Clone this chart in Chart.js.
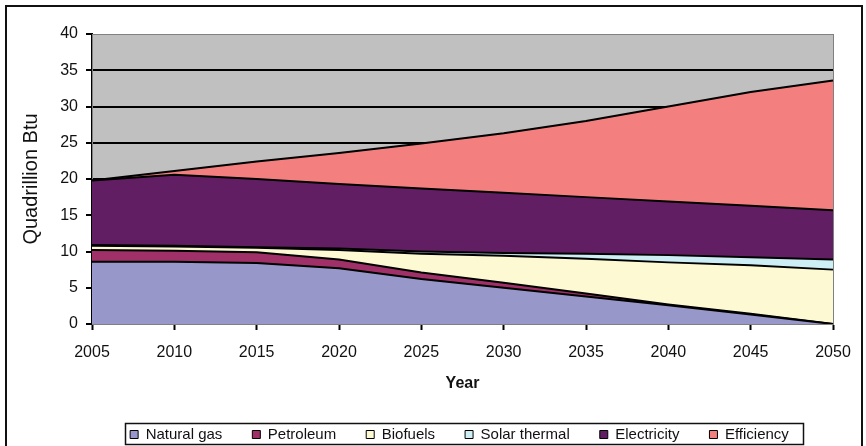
<!DOCTYPE html>
<html>
<head>
<meta charset="utf-8">
<script src="https://cdn.jsdelivr.net/npm/chart.js@4.4.1/dist/chart.umd.min.js"></script>
<style>
  body { margin: 0; background: #fff; }
  canvas { display: block; }
</style>
</head>
<body>
<canvas id="energyChart" width="866" height="446"></canvas>
<script>
// years on the x axis
const years = ["2005", "2010", "2015", "2020", "2025", "2030", "2035", "2040", "2045", "2050"];

// stacked values, quadrillion Btu
const naturalGas   = [8.6, 8.6, 8.4, 7.7, 6.2, 5.0, 3.8, 2.6, 1.3, 0.0];
const petroleum    = [1.6, 1.5, 1.5, 1.2, 0.9, 0.7, 0.4, 0.1, 0.1, 0.0];
const biofuels     = [0.6, 0.6, 0.6, 1.3, 2.6, 3.7, 4.8, 5.8, 6.7, 7.5];
const solarThermal = [0.1, 0.1, 0.1, 0.2, 0.3, 0.4, 0.7, 1.0, 1.1, 1.4];
const electricity  = [8.9, 9.8, 9.4, 8.9, 8.7, 8.3, 7.8, 7.4, 7.1, 6.8];
const efficiency   = [0.0, 0.5, 2.4, 4.3, 6.2, 8.2, 10.5, 13.1, 15.7, 17.9];

const yTicks = [0, 5, 10, 15, 20, 25, 30, 35, 40];

const seriesNames  = ["Natural gas", "Petroleum", "Biofuels", "Solar thermal", "Electricity", "Efficiency"];
const seriesValues = [naturalGas, petroleum, biofuels, solarThermal, electricity, efficiency];
const seriesColors = ["#9797ca", "#a03068", "#fdf9d2", "#cdeef4", "#621e62", "#f47f7f"];

const FONT = "'Liberation Sans', Arial, sans-serif";
const LEGEND_SHIFT = 43; // legend sits right of centre in the original

// gray plot background, outer frame and legend box
const framePlugin = {
    id: "frame",
    afterLayout(chart) {
        chart.legend.left += LEGEND_SHIFT;
        chart.legend.right += LEGEND_SHIFT;
    },
    beforeDraw(chart) {
        const { ctx, chartArea: a } = chart;
        ctx.save();
        ctx.fillStyle = "#ffffff";
        ctx.fillRect(0, 0, chart.width, chart.height);
        ctx.fillStyle = "#c0c0c0";
        ctx.fillRect(a.left, a.top, a.right - a.left, a.bottom - a.top);
        ctx.restore();
    },
    beforeDatasetsDraw(chart) {
        const { ctx, chartArea: a } = chart;
        ctx.save();
        ctx.strokeStyle = "#808080";
        ctx.lineWidth = 1;
        ctx.strokeRect(a.left + 0.5, a.top + 0.5, a.right - a.left, a.bottom - a.top);
        ctx.restore();
    },
    afterDraw(chart) {
        const ctx = chart.ctx;
        ctx.save();
        ctx.strokeStyle = "#111";
        ctx.lineWidth = 2;
        ctx.strokeRect(6, 6, 856, 470);

        const boxes = chart.legend.legendHitBoxes;
        if (boxes && boxes.length) {
            const l = Math.min(...boxes.map(b => b.left)) - 5;
            const r = Math.max(...boxes.map(b => b.left + b.width)) + 14;
            const t = Math.min(...boxes.map(b => b.top)) - 4;
            const btm = Math.max(...boxes.map(b => b.top + b.height)) + 2;
            ctx.lineWidth = 1.5;
            ctx.strokeRect(Math.round(l) + 0.5, Math.round(t) + 0.5, Math.round(r - l), Math.round(btm - t));
        }
        ctx.restore();
    }
};

const datasets = seriesNames.map((name, i) => ({
    label: name,
    data: seriesValues[i],
    backgroundColor: seriesColors[i],
    borderColor: "#000",
    borderWidth: 2,
    pointRadius: 0,
    tension: 0,
    fill: i === 0 ? "origin" : "-1"
}));

const ctx = document.getElementById("energyChart").getContext("2d");
new Chart(ctx, {
    type: "line",
    data: { labels: years, datasets: datasets },
    options: {
        responsive: false,
        animation: false,
        layout: { padding: { left: 0, right: 33, top: 34, bottom: 0 } },
        plugins: {
            tooltip: { enabled: false },
            legend: {
                position: "bottom",
                maxHeight: 49,
                labels: {
                    font: { family: FONT, size: 15 },
                    color: "#111",
                    boxWidth: 8,
                    boxHeight: 8,
                    padding: 30,
                    generateLabels(chart) {
                        const items = Chart.defaults.plugins.legend.labels.generateLabels(chart);
                        items.forEach(it => { it.lineWidth = 1; it.strokeStyle = "#000"; });
                        return items;
                    }
                }
            }
        },
        scales: {
            x: {
                type: "category",
                offset: false,
                grid: { drawOnChartArea: false, drawTicks: true, tickLength: 6, tickColor: "#000", tickWidth: 2 },
                border: { color: "#000", width: 2 },
                ticks: { font: { family: FONT, size: 16 }, color: "#111", padding: 13, maxRotation: 0, autoSkip: false },
                title: { display: true, text: "Year", font: { family: FONT, size: 16, weight: "bold" }, color: "#111", padding: { top: 4, bottom: 4 } },
                afterFit(scale) { scale.height = 73; }
            },
            y: {
                stacked: true,
                min: 0,
                max: 40,
                afterBuildTicks(scale) { scale.ticks = yTicks.map(v => ({ value: v })); },
                grid: {
                    color: c => (c.tick && c.tick.value > 0 && c.tick.value < 40) ? "#000" : "rgba(0,0,0,0)",
                    lineWidth: 2,
                    drawTicks: true,
                    tickLength: 6,
                    tickColor: "#000",
                    tickWidth: 2
                },
                border: { color: "#000", width: 2 },
                ticks: { font: { family: FONT, size: 16 }, color: "#111", padding: 8 },
                title: { display: true, text: "Quadrillion Btu", font: { family: FONT, size: 20 }, color: "#111", padding: { top: 19, bottom: 0 } },
                afterFit(scale) { scale.width = 92; }
            }
        }
    },
    plugins: [framePlugin]
});
</script>
</body>
</html>
